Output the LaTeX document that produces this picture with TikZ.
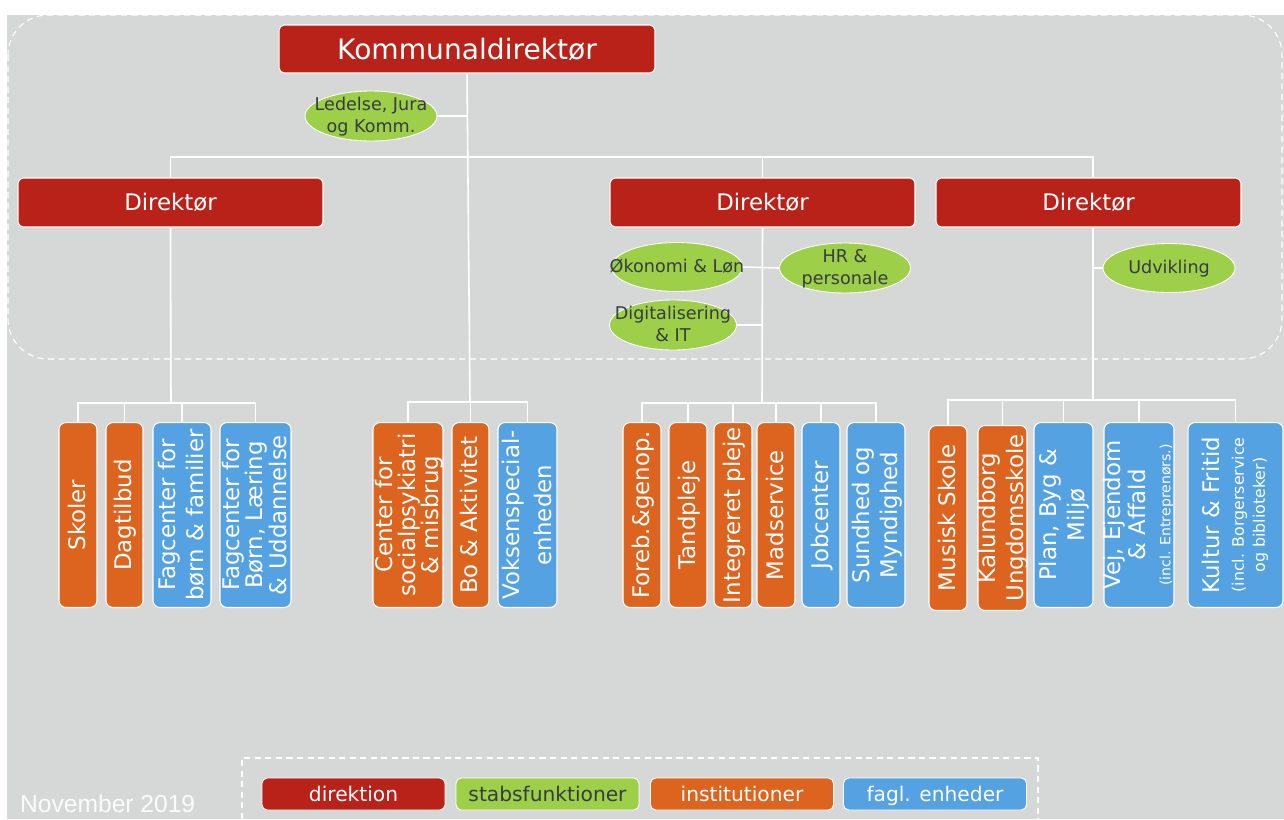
\documentclass[tikz,border=0pt]{standalone}
\usepackage{fontspec}
\setmainfont{DejaVu Sans}
\newfontfamily\datofont{Liberation Sans}
\usetikzlibrary{shapes.geometric}

\definecolor{direkrod}{RGB}{185,34,25}
\definecolor{stabgron}{RGB}{157,207,72}
\definecolor{instorange}{RGB}{221,100,30}
\definecolor{faglblaa}{RGB}{85,162,226}
\definecolor{baggrund}{RGB}{214,216,215}
\definecolor{morktekst}{RGB}{55,60,65}

% tekst uden bredde, saa boksen beholder sin stoerrelse
\newcommand{\boks}[1]{\smash{\makebox[0pt]{\raisebox{-.3em}{\begin{tabular}{@{}c@{}}#1\end{tabular}}}}}

\begin{document}
\begin{tikzpicture}[x=0.02cm,y=-0.02cm,
    link/.style={white,line width=0.9pt},
    direk/.style={draw=white,line width=0.6pt,fill=direkrod,rounded corners=3pt,text=white,
        minimum width=6.1cm,minimum height=0.98cm,font=\fontsize{13}{15}\selectfont},
    stab/.style={ellipse,draw=white,line width=0.5pt,fill=stabgron,text=morktekst,inner sep=0pt,
        minimum width=2.62cm,minimum height=0.98cm,font=\fontsize{10}{12.5}\selectfont},
    enhed/.style={rotate=90,draw=white,line width=0.6pt,rounded corners=4pt,text=white,inner sep=0pt,
        minimum width=3.7cm,font=\fontsize{13}{16}\selectfont},
    inst/.style={enhed,fill=instorange},
    fagl/.style={enhed,fill=faglblaa},
    forklaring/.style={draw=white,line width=0.5pt,rounded corners=3pt,inner sep=0pt,
        text height=1.9ex,text depth=0.3ex,
        minimum width=3.66cm,minimum height=0.64cm,font=\fontsize{11.5}{13}\selectfont}]
    \useasboundingbox (0,0) rectangle (1284,819);

    % Baggrund.
    \fill[white] (0,0) rectangle (1284,819);
    \fill[baggrund] (7,15) rectangle (1284,819);
    \draw[white,line width=0.6pt,dash pattern=on 3.5pt off 2.5pt,rounded corners=0.8cm]
        (8,15) rectangle (1282,359);

    % Direktion.
    \node[direk,minimum width=7.52cm,minimum height=0.96cm,font=\fontsize{16}{18}\selectfont]
        (kd) at (467,49) {Kommunaldirektør};
    \node[direk] (dir1) at (170.5,202.5) {Direktør};
    \node[direk] (dir2) at (762.5,202.5) {Direktør};
    \node[direk] (dir3) at (1088.5,202.5) {Direktør};

    % Stabsfunktioner.
    \node[stab,minimum width=2.64cm,minimum height=1cm] (ledelse) at (371,116) {\boks{Ledelse, Jura\\og Komm.}};
    \node[stab] (okonomi) at (677,267) {\boks{Økonomi \& Løn}};
    \node[stab,minimum height=1cm] (hr) at (845,268) {\boks{HR \&\\personale}};
    \node[stab,minimum width=2.54cm,minimum height=1cm] (digital) at (673,325) {\boks{Digitalisering\\\& IT}};
    \node[stab,minimum width=2.64cm] (udvikling) at (1169,268) {\boks{Udvikling}};

    % Under direktør 1.
    \node[inst,minimum height=0.76cm] (skoler) at (78,515) {\boks{Skoler}};
    \node[inst,minimum height=0.74cm] (dagtilbud) at (124.5,515) {\boks{Dagtilbud}};
    \node[fagl,minimum height=1.16cm] (fagboern) at (182,515) {\boks{Fagcenter for\\børn \& familier}};
    \node[fagl,minimum height=1.42cm,font=\fontsize{13}{11}\selectfont]
        (faglaering) at (255.5,515) {\boks{Fagcenter for\\Børn, Læring\\\& Uddannelse}};

    % Under kommunaldirektør.
    \node[inst,minimum height=1.4cm,font=\fontsize{13}{11}\selectfont]
        (social) at (408,515) {\boks{Center for\\socialpsykiatri\\\& misbrug}};
    \node[inst,minimum height=0.74cm] (bo) at (470.5,515) {\boks{Bo \& Aktivitet}};
    \node[fagl,minimum height=1.18cm,font=\fontsize{13}{18.5}\selectfont]
        (voksen) at (527.5,515) {\boks{Voksenspecial-\\enheden}};

    % Under direktør 2.
    \node[inst,minimum height=0.76cm] (foreb) at (642,515) {\boks{Foreb.\&genop.}};
    \node[inst,minimum height=0.76cm] (tandpleje) at (688,515) {\boks{Tandpleje}};
    \node[inst,minimum height=0.76cm] (integreret) at (733,515) {\boks{Integreret pleje}};
    \node[inst,minimum height=0.76cm] (madservice) at (776,515) {\boks{Madservice}};
    \node[fagl,minimum height=0.76cm] (jobcenter) at (821,515) {\boks{Jobcenter}};
    \node[fagl,minimum height=1.16cm] (sundhed) at (876,515) {\boks{Sundhed og\\Myndighed}};

    % Under direktør 3.
    \node[inst,minimum height=0.76cm,minimum width=3.7cm] (musisk) at (948,518) {\boks{Musisk Skole}};
    \node[inst,minimum height=0.98cm] (ungdom) at (1002.5,518) {\boks{Kalundborg\\Ungdomsskole}};
    \node[fagl,minimum height=1.18cm] (plan) at (1063.5,515) {\boks{Plan, Byg \&\\Miljø}};
    \node[fagl,minimum height=1.4cm,font=\fontsize{13}{14}\selectfont]
        (vej) at (1139,515) {\boks{Vej, Ejendom\\\& Affald\\{\fontsize{8}{9}\selectfont(incl. Entreprenørs.)}}};
    \node[fagl,minimum height=1.9cm,font=\fontsize{13}{14}\selectfont]
        (kultur) at (1235.5,515) {\boks{Kultur \& Fritid\\{\fontsize{9}{10}\selectfont(incl. Borgerservice}\\[-2pt]{\fontsize{9}{10}\selectfont og biblioteker)}}};

    % Forbindelser.
    \coordinate (top) at (467,157);
    \coordinate (bar1) at (171,403);
    \coordinate (bar2) at (470,402);
    \coordinate (bar3) at (762,403);
    \coordinate (bar4) at (1093,400);

    \draw[link] (kd.south) -- (bar2);
    \draw[link] (ledelse.east) -- (ledelse.east -| kd.south);
    \foreach \d in {dir1,dir2}{
        \draw[link] (\d.north) |- (top);
    }
    \draw[link] (dir3.north -| bar4) |- (top);
    \draw[link] (dir1.south) -- (bar1);
    \draw[link] (dir2.south) -- (bar3);
    \draw[link] (dir3.south -| bar4) -- (bar4);
    \draw[link] (okonomi.east) -- (hr.west);
    \draw[link] (digital.east) -- (digital.east -| bar3);
    \draw[link] (udvikling.west) -- (udvikling.west -| bar4);

    \foreach \u in {skoler,dagtilbud,fagboern,faglaering}{
        \draw[link] (\u.east) |- (bar1);
    }
    \foreach \u in {social,bo,voksen}{
        \draw[link] (\u.east) |- (bar2);
    }
    \foreach \u in {foreb,tandpleje,integreret,madservice,jobcenter,sundhed}{
        \draw[link] (\u.east) |- (bar3);
    }
    \foreach \u in {musisk,ungdom,plan,vej,kultur}{
        \draw[link] (\u.east) |- (bar4);
    }

    % Forklaring.
    \draw[white,line width=0.6pt,dash pattern=on 3.5pt off 2.5pt] (242,819) |- (1038,758) -- (1038,819);
    \node[forklaring,fill=direkrod,text=white] (lgdirek) at (353.5,794) {direktion};
    \node[forklaring,fill=stabgron,text=morktekst] (lgstab) at (547.5,794) {stabsfunktioner};
    \node[forklaring,fill=instorange,text=white] (lginst) at (742,794) {institutioner};
    \node[forklaring,fill=faglblaa,text=white] (lgfagl) at (935,794) {fagl. enheder};

    \node[anchor=base west,text=white!90!baggrund,font=\datofont\fontsize{14}{16}\selectfont]
        (dato) at (14,812) {November 2019};
\end{tikzpicture}
\end{document}
